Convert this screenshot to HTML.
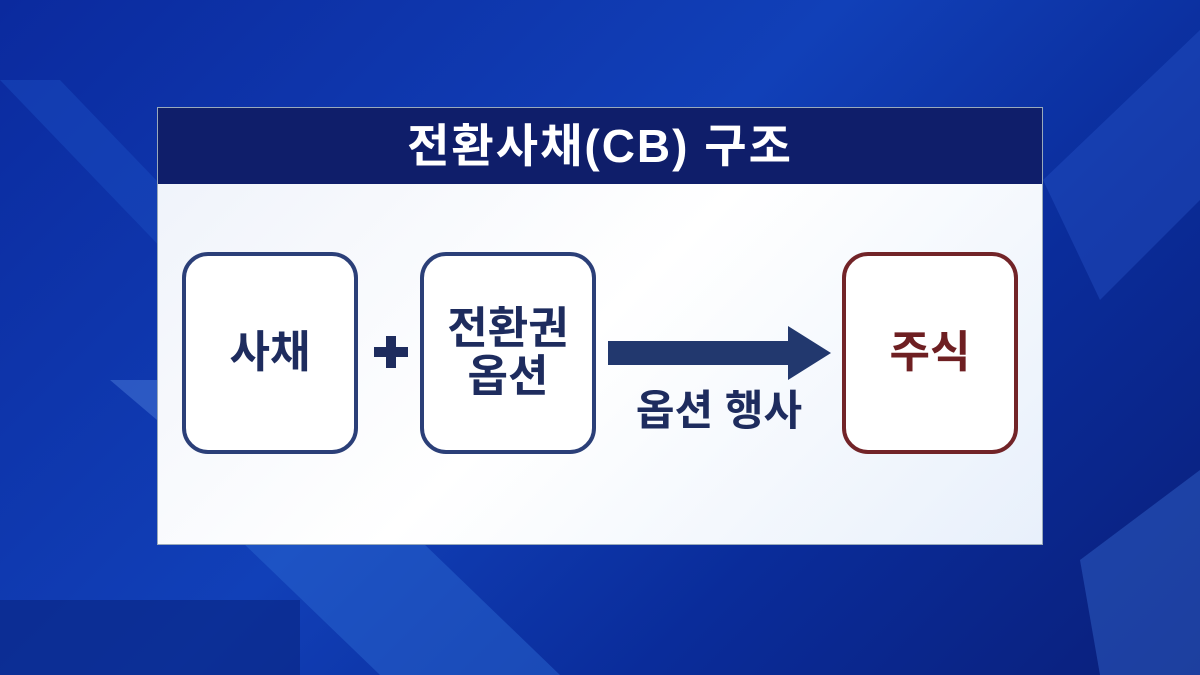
<!DOCTYPE html>
<html><head><meta charset="utf-8"><style>
body{margin:0;width:1200px;height:675px;overflow:hidden;font-family:"Liberation Sans","Noto Sans CJK KR",sans-serif;}
.bg{position:absolute;left:0;top:0;width:1200px;height:675px;background:linear-gradient(135deg,#0b2a9e 0%,#1140b8 45%,#0a2c9a 70%,#0a1f7a 100%);overflow:hidden}
.panel{position:absolute;left:157px;top:107px;width:884px;height:436px;border:1px solid #9ab;background:linear-gradient(135deg,#eef2fa 0%,#ffffff 50%,#e8f0fb 100%)}
.title{position:absolute;left:0;top:0;width:884px;height:76px;background:#0f1e6a;color:#fff;font-weight:bold;font-size:46px;letter-spacing:2px;text-align:center;line-height:76px}
.box{position:absolute;top:144px;width:168px;height:194px;border:4px solid #2b3f78;border-radius:26px;background:#fff;display:flex;align-items:center;justify-content:center;text-align:center;font-weight:bold;font-size:44px;color:#1e2c5e;line-height:48px}
</style></head><body>
<div class="bg">
<svg width="1200" height="675" style="position:absolute;left:0;top:0">
<polygon points="0,80 60,80 300,330 240,330" fill="#1a4cc0" opacity="0.5"/>
<polygon points="240,540 420,540 560,675 380,675" fill="#2a66d0" opacity="0.5"/>
<polygon points="0,600 300,600 300,675 0,675" fill="#0a2580" opacity="0.6"/>
<polygon points="1043,180 1200,30 1200,200 1100,300" fill="#2855c8" opacity="0.4"/>
<polygon points="1080,560 1200,470 1200,675 1100,675" fill="#3a70d8" opacity="0.4"/>
<polygon points="110,380 157,380 157,420" fill="#4a7ad8" opacity="0.5"/>
</svg>
</div>
<div class="panel">
<div class="title">전환사채(CB) 구조</div>
<div class="box" style="left:24px">사채</div>
<div class="box" style="left:262px">전환권<br>옵션</div>
<div class="box" style="left:684px;border-color:#722428;color:#6e1f22">주식</div>
<svg width="884" height="436" style="position:absolute;left:0;top:0">
<rect x="216" y="239" width="34" height="10" fill="#1e2c5e"/>
<rect x="228" y="228" width="10" height="32" fill="#1e2c5e"/>
<polygon points="450,233 630,233 630,218 673,245 630,272 630,257 450,257" fill="#22386e"/>
<text x="561" y="317" text-anchor="middle" font-size="42" font-weight="bold" fill="#1e2c5e" font-family="Liberation Sans,Noto Sans CJK KR,sans-serif">옵션 행사</text>
</svg>
</div>
</body></html>
